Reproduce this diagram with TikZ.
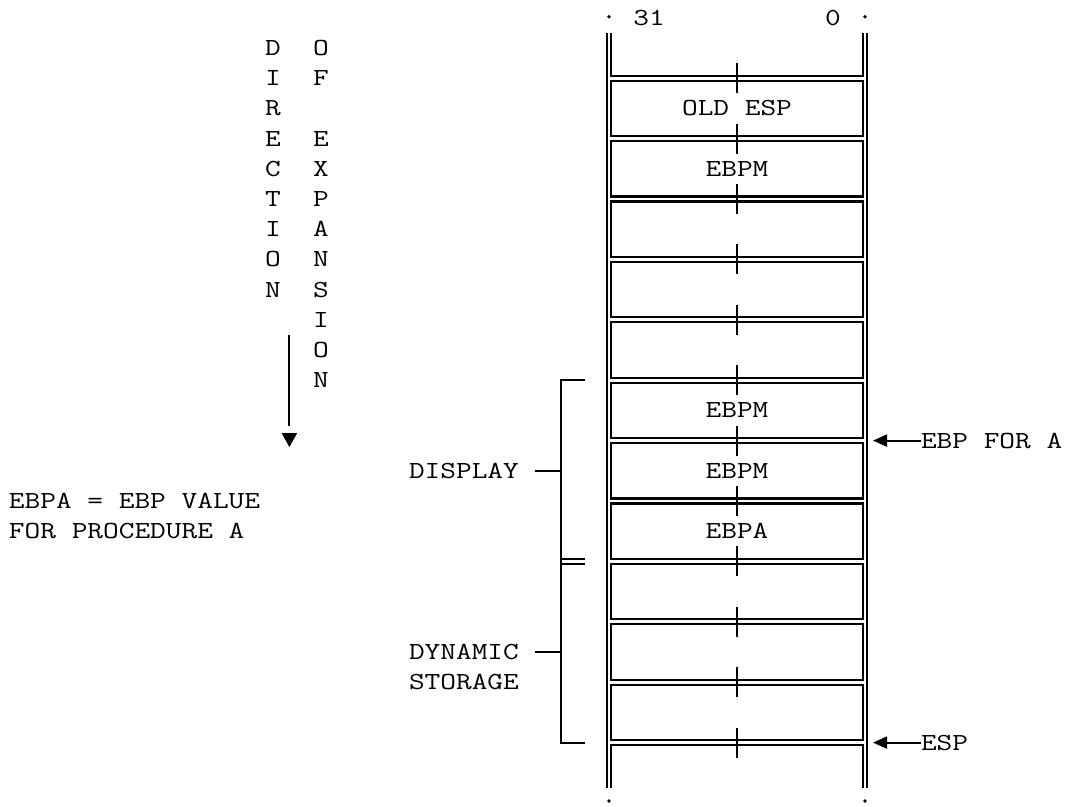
\documentclass[tikz,border=0pt]{standalone}
\usepackage{fontspec}
\setmonofont[FakeStretch=1.244]{Latin Modern Mono}
\usetikzlibrary{arrows.meta}
\def\lny#1{(48+30.2*(#1))}
\begin{document}
\begin{tikzpicture}[x=1pt,y=-1pt,
  txt/.style={font=\ttfamily\fontsize{24.5}{30}\selectfont, inner sep=0pt, outer sep=0pt, text=black},
  cell/.style={txt, draw, rectangle, minimum width=252pt, minimum height=55.4pt, line width=2.1pt},
  wall/.style={line width=2.1pt},
  brk/.style={line width=2.2pt},
  tick/.style={line width=2.1pt},
  ptr/.style={line width=2.1pt, -{Triangle[length=14pt,width=12pt]}}]
\useasboundingbox (0,0) rectangle (1070,806);

% stack walls
\draw[wall] (607.4,33) -- (607.4,788);
\draw[wall] (866.8,33) -- (866.8,788);
\draw[wall] (611,33) -- (611,{\lny{1}-2.5}) -- (863,{\lny{1}-2.5}) -- (863,33);
\draw[wall] (611,788) -- (611,{\lny{23}+2.5}) -- (863,{\lny{23}+2.5}) -- (863,788);

% stack cells
\foreach \k/\t in {0/OLD ESP,1/EBPM,2/,3/,4/,5/EBPM,6/EBPM,7/EBPA,8/,9/,10/}
  \node[cell] (r\k) at (737,{\lny{2*\k+2}}) {\t};

% centre ticks
\foreach \k in {0,...,11}
  \draw[tick] (737,{\lny{2*\k+1}-15}) -- (737,{\lny{2*\k+1}+15});

% bit numbers and dots
\node[txt] (b31) at (649,{\lny{-1}}) {31};
\node[txt] (b0) at (833,{\lny{-1}}) {0};
\fill (609,{\lny{-1}-1}) circle (1.9pt);
\fill (865,{\lny{-1}-1}) circle (1.9pt);
\fill (609,{\lny{25}-2}) circle (1.9pt);
\fill (865,{\lny{25}-2}) circle (1.9pt);

% direction of expansion
\foreach \c [count=\i from 0] in {D,I,R,E,C,T,I,O,N}
  \node[txt] (d\i) at (273,{\lny{\i}}) {\c};
\foreach \i/\c in {0/O,1/F,3/E,4/X,5/P,6/A,7/N,8/S,9/I,10/O,11/N}
  \node[txt] (e\i) at (321,{\lny{\i}}) {\c};
\coordinate (dirA) at (289.3,335);
\coordinate (dirB) at (289.3,426);
\draw[line width=2.1pt] (dirA) -- (dirB);
\fill (281.6,433) -- (297.2,433) -- (289.4,447) -- cycle;

% footnote
\node[txt, anchor=west] (fn1) at (9,{\lny{15}}) {EBPA = EBP VALUE};
\node[txt, anchor=west] (fn2) at (9,{\lny{16}}) {FOR PROCEDURE A};

% brackets
\draw[brk] (585,{\lny{11}}) -- (561,{\lny{11}}) -- (561,{\lny{23}}) -- (585,{\lny{23}});
\draw[brk] (561,{\lny{17}-2.3}) -- (585,{\lny{17}-2.3});
\draw[brk] (561,{\lny{17}+2.3}) -- (585,{\lny{17}+2.3});
\node[txt, anchor=west] (disp) at (409,{\lny{14}}) {DISPLAY};
\node[txt, anchor=west] (dyn) at (409,{\lny{20}}) {DYNAMIC};
\node[txt, anchor=west] (stor) at (409,{\lny{21}}) {STORAGE};
\coordinate (dispB) at (561,{\lny{14}});
\coordinate (dynB) at (561,{\lny{20}});
\draw[brk] ([xshift=16pt]disp.east) -- (dispB);
\draw[brk] ([xshift=16pt]dyn.east) -- (dynB);

% pointers
\node[txt, anchor=west] (ebpa) at (921,{\lny{13}}) {EBP FOR A};
\coordinate (ebptip) at (873,{\lny{13}});
\draw[ptr] (ebpa.west) -- (ebptip);
\node[txt, anchor=west] (esp) at (921,{\lny{23}}) {ESP};
\coordinate (esptip) at (873,{\lny{23}});
\draw[ptr] (esp.west) -- (esptip);
\end{tikzpicture}
\end{document}
